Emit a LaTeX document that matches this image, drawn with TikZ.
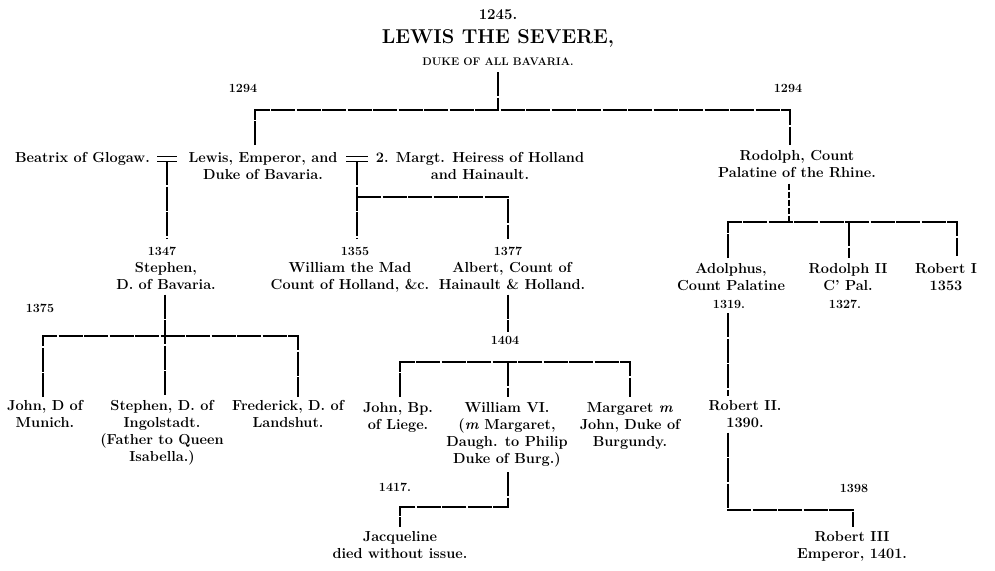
\documentclass[tikz,border=0pt]{standalone}
\usepackage{tikz}

\begin{document}
\begin{tikzpicture}[x=1pt,y=-1pt,
  nm/.style={font=\fontsize{14.5}{17}\selectfont\bfseries, align=center, inner sep=0pt, anchor=north},
  yr/.style={font=\fontsize{12.5}{15}\selectfont\bfseries, inner sep=0pt},
  rule/.style={line width=1.25pt, dash pattern=on 24pt off 1.5pt},
  gap/.style={shorten <=5pt, shorten >=4pt}]
  \useasboundingbox (0,0) rectangle (995,570);
  % head of the house
  \node[yr, font=\fontsize{15}{18}\selectfont\bfseries] (yr1245) at (498,15) {1245.};
  \node[yr, font=\fontsize{20}{24}\selectfont\bfseries] (severe) at (498,38) {LEWIS THE SEVERE,};
  \node[yr, font=\fontsize{11}{13}\selectfont\bfseries] (dukeall) at (498,62) {DUKE OF ALL BAVARIA.};
  \node[yr] (y1294a) at (243,88) {1294}; \node[yr] (y1294b) at (788,88) {1294};
  \coordinate (j1) at (498,110); \coordinate (a1) at (255,145); \coordinate (a2) at (790,145);
  \draw[rule, shorten <=6pt] (dukeall.south) -- (j1); \draw[rule] (a1) |- (j1) -| (a2);

  % second row
  \node[nm, anchor=east] (beatrix) at (150,159) {Beatrix of Glogaw.};
  \node[nm] (lewisE) at (263,152.5) {Lewis, Emperor, and\\Duke of Bavaria.};
  \node[nm] (margt) at (480,152.5) {2. Margt. Heiress of Holland\\and Hainault.};
  \node[nm] (rodolph) at (797,150) {Rodolph, Count\\Palatine of the Rhine.};
  \coordinate (m1) at (167,159); \coordinate (m2) at (357,159);
  \draw[line width=1.1pt] (m1) ++(-10,-2.2) -- ++(20,0) (m1) ++(-10,2.2) -- ++(20,0);
  \draw[line width=1.1pt] (m2) ++(-11,-2.2) -- ++(22,0) (m2) ++(-11,2.2) -- ++(22,0);

  % children of Lewis
  \node[yr] (yr1347) at (162,251) {1347}; \node[nm] (stephen) at (166,262) {Stephen,\\D. of Bavaria.};
  \node[yr] (yr1355) at (355,251) {1355}; \node[nm] (william) at (350,262) {William the Mad\\Count of Holland, \&c.};
  \node[yr] (yr1377) at (508,251) {1377}; \node[nm] (albert) at (512,262) {Albert, Count of\\Hainault \& Holland.};
  \draw[rule, shorten >=8pt] ([yshift=-2.2pt]m1) -- (m1 |- yr1347.north);
  \coordinate (j2) at (357,197);
  \draw[rule, shorten >=8pt] ([yshift=-2.2pt]m2) -- (m2 |- yr1355.north);
  \draw[rule, shorten >=8pt] (j2) -| (yr1377.north);

  % children of Rodolph
  \coordinate (j4) at (789,222); \coordinate (c1) at (728,258); \coordinate (c2) at (849,258); \coordinate (c3) at (957,256);
  \draw[rule, dash pattern=on 6pt off 2pt, shorten <=6pt] (j4 |- rodolph.south) -- (j4);
  \draw[rule] (c1) |- (j4) -| (c3); \draw[rule] (c2 |- j4) -- (c2);
  \node[nm] (adolph) at (731,263) {Adolphus,\\Count Palatine};
  \node[nm] (rodolph2) at (848,263) {Rodolph II\\C' Pal.};
  \node[nm] (robert1) at (946,263) {Robert I\\1353};
  \node[yr] (yr1319) at (729,304) {1319.}; \node[yr] (yr1327) at (845,304) {1327.};

  % children of Stephen
  \node[yr] (yr1375) at (40,308) {1375};
  \coordinate (s0) at (165,336); \coordinate (l1) at (43,397); \coordinate (l3) at (298,397);
  \node[nm] (johnD) at (45,400) {John, D of\\Munich.};
  \node[nm] (stephenI) at (162,400) {Stephen, D. of\\Ingolstadt.\\(Father to Queen\\Isabella.)};
  \node[nm] (fred) at (288,400) {Frederick, D. of\\Landshut.};
  \draw[rule, gap] (s0 |- stephen.south) -- (s0 |- stephenI.north); \draw[rule] (l1) |- (s0) -| (l3);

  % children of Albert
  \node[yr] (yr1404) at (505,340) {1404};
  \coordinate (b0) at (508,362); \coordinate (b1) at (400,397); \coordinate (b3) at (630,397);
  \draw[rule, gap] (b0 |- albert.south) -- (b0 |- yr1404.north);
  \draw[rule] (b1) |- (b0) -| (b3); \draw[rule] (b0) -- (b1 -| b0);
  \node[nm] (johnB) at (398,402) {John, Bp.\\of Liege.};
  \node[nm] (william6) at (507,402) {William VI.\\(\textit{m} Margaret,\\Daugh. to Philip\\Duke of Burg.)};
  \node[nm] (margaret) at (630,402) {Margaret \textit{m}\\John, Duke of\\Burgundy.};

  % Jacqueline
  \node[yr] (yr1417) at (395,487) {1417.};
  \coordinate (w0) at (508,507); \coordinate (w1) at (400,527);
  \draw[rule, shorten <=5pt] (w0 |- william6.south) -- (w0) -| (w1);
  \node[nm] (jacq) at (400,531) {Jacqueline\\died without issue.};

  % line of Adolphus
  \node[nm] (robert2) at (745,400) {Robert II.\\1390.};
  \draw[rule, gap] (c1 |- yr1319.south) -- (c1 |- robert2.north);
  \node[yr] (yr1398) at (854,488) {1398};
  \coordinate (r1) at (728,510); \coordinate (r2) at (853,527);
  \draw[rule, shorten <=5pt] (r1 |- robert2.south) -- (r1) -| (r2);
  \node[nm] (robert3) at (852,531) {Robert III\\Emperor, 1401.};
\end{tikzpicture}
\end{document}
